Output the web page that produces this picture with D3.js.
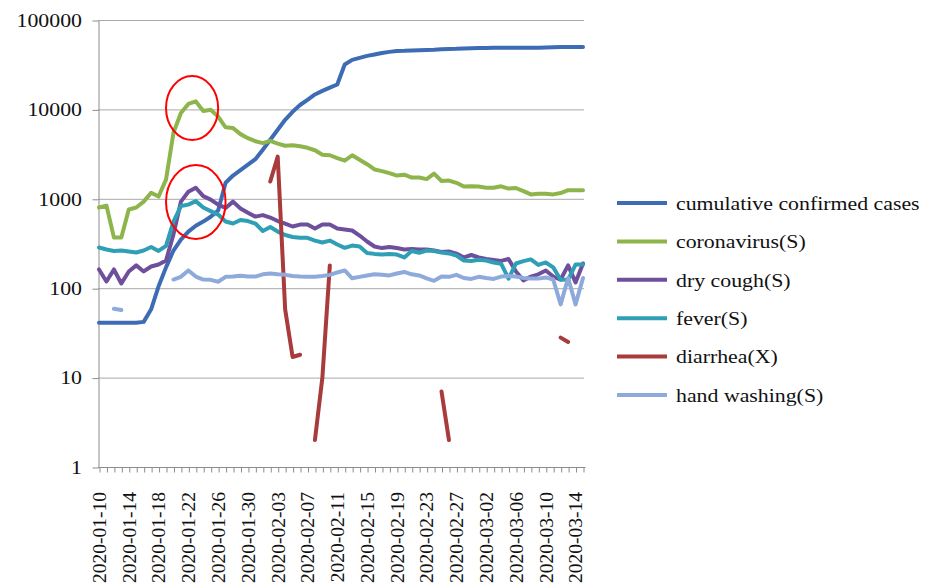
<!DOCTYPE html>
<html><head><meta charset="utf-8">
<script src="https://cdn.jsdelivr.net/npm/d3@7/dist/d3.min.js"></script>
<style>body{margin:0;background:#fff;} svg{display:block;background:#fff;}</style>
</head><body><svg id="c" width="939" height="586"></svg>
<script>
const dates = ["2020-01-10","2020-01-11","2020-01-12","2020-01-13","2020-01-14","2020-01-15","2020-01-16","2020-01-17","2020-01-18","2020-01-19",
"2020-01-20","2020-01-21","2020-01-22","2020-01-23","2020-01-24","2020-01-25","2020-01-26","2020-01-27","2020-01-28","2020-01-29",
"2020-01-30","2020-01-31","2020-02-01","2020-02-02","2020-02-03","2020-02-04","2020-02-05","2020-02-06","2020-02-07","2020-02-08",
"2020-02-09","2020-02-10","2020-02-11","2020-02-12","2020-02-13","2020-02-14","2020-02-15","2020-02-16","2020-02-17","2020-02-18",
"2020-02-19","2020-02-20","2020-02-21","2020-02-22","2020-02-23","2020-02-24","2020-02-25","2020-02-26","2020-02-27","2020-02-28",
"2020-02-29","2020-03-01","2020-03-02","2020-03-03","2020-03-04","2020-03-05","2020-03-06","2020-03-07","2020-03-08","2020-03-09",
"2020-03-10","2020-03-11","2020-03-12","2020-03-13","2020-03-14","2020-03-15"];
const tickLabels = ["2020-01-10","2020-01-14","2020-01-18","2020-01-22","2020-01-26","2020-01-30","2020-02-03","2020-02-07","2020-02-11",
"2020-02-15","2020-02-19","2020-02-23","2020-02-27","2020-03-02","2020-03-06","2020-03-10","2020-03-14"];
const yTicks = [1,10,100,1000,10000,100000];

const confirmed = [41,41,41,41,41,41,42,58,105,171,
264,350,430,500,556,630,740,1510,1820,2090,
2410,2770,3540,4570,5920,7650,9400,11200,12800,14700,
16100,17500,19000,31800,35800,37700,39700,41200,42800,44000,
45100,45300,45700,46000,46200,46500,47100,47400,47600,48100,
48400,48700,48700,48800,48800,48800,48800,48800,48800,49000,
49200,49600,50000,50000,50000,50000];
const coronavirus = [800,840,370,370,760,800,930,1170,1060,1640,
5480,9130,11500,12300,9600,9900,8300,6300,6180,5290,
4770,4400,4200,4450,4150,3920,3980,3870,3720,3490,
3110,3070,2850,2670,3070,2740,2440,2130,2040,1940,
1820,1860,1730,1730,1660,1910,1580,1600,1510,1370,
1380,1370,1330,1330,1380,1300,1320,1220,1120,1140,
1140,1120,1160,1250,1250,1250];
const dryCough = [162,119,162,113,154,180,154,175,184,204,
400,930,1200,1330,1070,980,860,790,930,780,
700,632,657,617,564,529,490,515,515,465,
515,515,465,453,442,388,333,293,281,289,
281,271,275,271,271,264,254,257,244,221,
235,221,212,207,202,212,154,122,135,143,
158,135,125,180,116,189];
const fever = [285,271,261,264,257,251,264,289,261,297,
557,829,861,942,798,729,666,557,530,580,
564,529,436,483,430,393,374,366,366,341,
324,341,308,283,300,293,248,242,238,242,
238,221,261,249,264,261,251,245,232,204,
202,208,204,194,188,128,189,201,210,182,
194,171,124,125,184,184];
const diarrhea = [null,null,null,null,null,null,null,null,null,null,
null,null,null,null,null,null,null,null,null,null,
null,null,null,1560,2960,58,17,18,null,2,
10,180,null,null,null,null,null,null,null,null,
null,null,null,null,null,null,7,2,null,null,
null,null,null,null,null,null,null,null,null,null,
null,null,28,25,null,null];
const handWashing = [null,null,59,57,null,null,null,null,null,null,
125,134,158,135,125,124,118,134,135,138,
135,135,143,146,143,141,137,135,134,134,
137,141,150,158,129,134,139,143,141,139,
146,152,143,139,129,121,135,134,141,130,
127,134,130,127,135,137,135,130,128,128,
132,125,66,130,66,130];

const seriesNames = ["cumulative confirmed cases","coronavirus(S)","dry cough(S)","fever(S)","diarrhea(X)","hand washing(S)"];
const seriesValues = [confirmed, coronavirus, dryCough, fever, diarrhea, handWashing];
const seriesColors = ["#3e6cb4","#8db54b","#6e4f9c","#2f9fb5","#a83b3b","#8eaadb"];

// annotation ellipses: [start date, end date, low value, high value]
const annotations = [["2020-01-19","2020-01-26",4550,23600],["2020-01-19","2020-01-27",355,2390]];

const FONT = "'Liberation Serif','Times New Roman',serif";
const SX = 1.12; // horizontal text stretch
const svg = d3.select("#c");
const x = d3.scalePoint().domain(dates).range([99,583]);
const y = d3.scaleLog().domain([1,100000]).range([467,20]);

// gridlines
svg.append("g").selectAll("line").data(yTicks.slice(1)).join("line")
  .attr("x1",98).attr("x2",584).attr("y1",d=>y(d)+0.5).attr("y2",d=>y(d)+0.5)
  .attr("stroke","#a8a8a8").attr("stroke-width",1);

// y axis
const gy = svg.append("g").attr("transform","translate(98.5,0.5)")
  .call(d3.axisLeft(y).tickValues(yTicks).tickSize(6).tickSizeOuter(0).tickFormat(""));
gy.selectAll("path,line").attr("stroke","#8c8c8c");
svg.append("g").selectAll("text").data(yTicks).join("text")
  .attr("transform",d=>`translate(82,${y(d)}) scale(${SX},1)`)
  .attr("text-anchor","end").attr("dy","0.35em")
  .style("font-family",FONT).style("font-size","19.5px").attr("fill","#111")
  .text(d=>d3.format("d")(d));

// x axis
const gx = svg.append("g").attr("transform","translate(0.5,467.5)")
  .call(d3.axisBottom(x).tickSize(5).tickSizeOuter(0).tickFormat(""));
gx.select(".domain").attr("d","M97.5,0H585");
gx.selectAll("path,line").attr("stroke","#8c8c8c");
svg.append("g").selectAll("text").data(tickLabels).join("text")
  .attr("transform",d=>`translate(${x(d)},492) rotate(-90)`)
  .attr("text-anchor","end").attr("dy","0.35em")
  .style("font-family",FONT).style("font-size","19.5px").attr("fill","#111")
  .text(d=>d);

// lines
const line = d3.line().defined(d=>d.v!=null && d.v>0).x(d=>x(d.d)).y(d=>y(d.v));
svg.append("g").selectAll("path").data(seriesValues.map((vals,k)=>({k,pts:vals.map((v,i)=>({d:dates[i],v}))})))
  .join("path")
  .attr("d",s=>line(s.pts)).attr("fill","none")
  .attr("stroke",s=>seriesColors[s.k]).attr("stroke-width",4)
  .attr("stroke-linejoin","round").attr("stroke-linecap","round");

// annotations
svg.append("g").selectAll("ellipse").data(annotations).join("ellipse")
  .attr("cx",a=>(x(a[0])+x(a[1]))/2).attr("cy",a=>(y(a[2])+y(a[3]))/2)
  .attr("rx",a=>(x(a[1])-x(a[0]))/2).attr("ry",a=>(y(a[2])-y(a[3]))/2)
  .attr("fill","none").attr("stroke","#ff0000").attr("stroke-width",2);

// legend
const lg = svg.append("g").selectAll("g").data(seriesNames).join("g")
  .attr("transform",(d,i)=>`translate(617,${203+i*38.4})`);
lg.append("line").attr("x1",0).attr("x2",50).attr("y1",0).attr("y2",0)
  .attr("stroke",(d,i)=>seriesColors[i]).attr("stroke-width",4);
lg.append("text").attr("transform",`translate(59,0) scale(${SX},1)`).attr("dy","0.35em")
  .style("font-family",FONT).style("font-size","19.5px").attr("fill","#111").text(d=>d);
</script></body></html>
